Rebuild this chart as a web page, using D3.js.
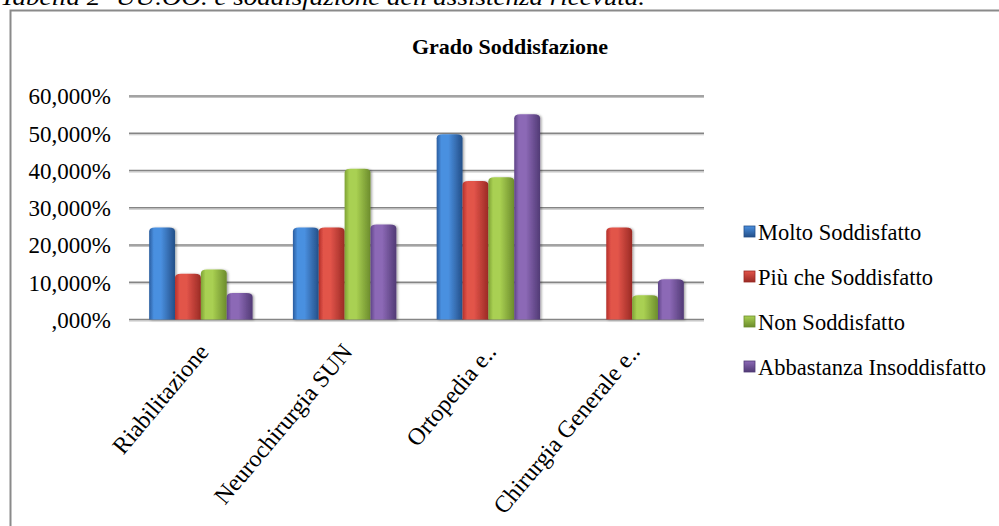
<!DOCTYPE html>
<html>
<head>
<meta charset="utf-8">
<script src="https://cdn.jsdelivr.net/npm/d3@7"></script>
<style>
  html, body { margin: 0; padding: 0; background: #fff; }
  svg { display: block; }
  text { font-family: "Liberation Serif", "Times New Roman", serif; fill: #000; }
</style>
</head>
<body>
<svg id="chart" width="999" height="526"></svg>
<script>
// Reparti (categorie sull'asse x)
const categories = ["Riabilitazione", "Neurochirurgia SUN", "Ortopedia e..", "Chirurgia Generale e.."];
// Serie del grado di soddisfazione
const series = ["Molto Soddisfatto", "Più che Soddisfatto", "Non Soddisfatto", "Abbastanza Insoddisfatto"];
// Percentuali per serie, nell'ordine delle categorie
const molto      = [24.7, 24.7, 49.7, 0];
const piuChe     = [12.3, 24.7, 37.2, 24.7];
const non        = [13.4, 40.5, 38.2, 6.5];
const abbastanza = [7.1, 25.5, 55.1, 10.8];
const seriesValues = [molto, piuChe, non, abbastanza];
// Etichette dell'asse y
const tickValues = [0, 10, 20, 30, 40, 50, 60];
const tickLabels = [",000%", "10,000%", "20,000%", "30,000%", "40,000%", "50,000%", "60,000%"];

const colors = [
  { mid: "#4a90e0", edge: "#2a5d9f", dark: "#244f88" },
  { mid: "#e2544a", edge: "#b4302a", dark: "#9a2a24" },
  { mid: "#a9d052", edge: "#7ea235", dark: "#6c8c2c" },
  { mid: "#8c69b6", edge: "#5f4488", dark: "#513a75" }
];

const svg = d3.select("#chart");
const defs = svg.append("defs");

colors.forEach((c, i) => {
  const g = defs.append("linearGradient").attr("id", "bar" + i)
    .attr("x1", "0").attr("x2", "1").attr("y1", "0").attr("y2", "0");
  g.append("stop").attr("offset", "0").attr("stop-color", c.edge);
  g.append("stop").attr("offset", "0.18").attr("stop-color", c.mid);
  g.append("stop").attr("offset", "0.45").attr("stop-color", c.mid);
  g.append("stop").attr("offset", "1").attr("stop-color", c.dark);
  const lg = defs.append("linearGradient").attr("id", "leg" + i)
    .attr("x1", "0").attr("x2", "0").attr("y1", "0").attr("y2", "1");
  lg.append("stop").attr("offset", "0").attr("stop-color", c.mid);
  lg.append("stop").attr("offset", "1").attr("stop-color", c.dark);
});

const shadow = defs.append("filter").attr("id", "shadow")
  .attr("x", "-20%").attr("y", "-10%").attr("width", "150%").attr("height", "120%");
shadow.append("feDropShadow").attr("dx", 1.5).attr("dy", 0.5)
  .attr("stdDeviation", 1.2).attr("flood-color", "#000").attr("flood-opacity", 0.35);

// Cornice esterna
svg.append("rect")
  .attr("x", 10.5).attr("y", 10.5).attr("width", 1000).attr("height", 540)
  .attr("fill", "none").attr("stroke", "#8a8a8a").attr("stroke-width", 2);

// Didascalia del documento, tagliata dal bordo superiore
svg.append("text")
  .attr("x", 0).attr("y", 5)
  .attr("font-size", 24).attr("font-style", "italic")
  .attr("textLength", 645).attr("lengthAdjust", "spacingAndGlyphs")
  .text("Tabella 2- UU.OO. e soddisfazione dell'assistenza ricevuta.");

// Titolo
svg.append("text")
  .attr("x", 510).attr("y", 54)
  .attr("text-anchor", "middle").attr("font-size", 22).attr("font-weight", "bold")
  .text("Grado Soddisfazione");

const plot = { left: 129, right: 704, top: 96, bottom: 319.5 };

const y = d3.scaleLinear().domain([0, 60]).range([plot.bottom, plot.top]);
const x0 = d3.scaleBand().domain(categories).range([plot.left, plot.right]).padding(0);
const x1 = d3.scaleBand().domain(d3.range(series.length))
  .range([0, x0.bandwidth()]).paddingInner(0).paddingOuter(0.78);

// Griglia orizzontale
const grid = svg.append("g");
tickValues.forEach(v => {
  grid.append("line")
    .attr("x1", plot.left).attr("x2", plot.right)
    .attr("y1", y(v) + 1.5).attr("y2", y(v) + 1.5)
    .attr("stroke", "#c4c4c4").attr("stroke-width", 1.2);
  grid.append("line")
    .attr("x1", plot.left).attr("x2", plot.right)
    .attr("y1", y(v)).attr("y2", y(v))
    .attr("stroke", "#858585").attr("stroke-width", 1.6);
});

// Asse y con etichette
const yAxis = d3.axisLeft(y).tickValues(tickValues)
  .tickFormat((d, i) => tickLabels[i]).tickSize(0).tickPadding(0);
const yg = svg.append("g").attr("transform", `translate(${111},0)`).call(yAxis);
yg.select(".domain").remove();
yg.selectAll("text")
  .attr("font-family", "Liberation Serif, serif").attr("font-size", 23)
  .attr("fill", "#000").attr("dy", "0.34em");

// Barre cilindriche con sommità arrotondata
function barPath(bx, by, w, h) {
  if (h <= 0) return "";
  const rx = Math.min(6, w / 2), ry = Math.min(4, h);
  return `M${bx},${by + h}V${by + ry}Q${bx},${by} ${bx + rx},${by}` +
         `H${bx + w - rx}Q${bx + w},${by} ${bx + w},${by + ry}V${by + h}Z`;
}

const groups = svg.append("g").selectAll("g")
  .data(categories).join("g")
  .attr("transform", d => `translate(${x0(d)},0)`);

groups.selectAll("path")
  .data((d, ci) => seriesValues.map((vals, si) => ({ si, v: vals[ci] })))
  .join("path")
  .attr("d", d => barPath(x1(d.si), y(d.v), x1.bandwidth(), y(0) - y(d.v)))
  .attr("fill", d => `url(#bar${d.si})`)
  .attr("filter", "url(#shadow)");

// Etichette dell'asse x, ruotate
const xAxis = d3.axisBottom(x0).tickSize(0).tickPadding(0);
const xg = svg.append("g").attr("transform", `translate(0,${plot.bottom})`).call(xAxis);
xg.select(".domain").remove();
xg.selectAll("text")
  .attr("font-family", "Liberation Serif, serif").attr("font-size", 24)
  .attr("fill", "#000")
  .attr("text-anchor", "end")
  .attr("dy", 0).attr("y", 0)
  .attr("transform", "translate(9,33) rotate(-50)");

// Legenda
const legend = svg.append("g");
const legendY = d3.scalePoint().domain(series).range([232, 367]);
series.forEach((s, i) => {
  const cy = legendY(s);
  legend.append("rect")
    .attr("x", 744).attr("y", cy - 6).attr("width", 11).attr("height", 11)
    .attr("fill", `url(#leg${i})`).attr("stroke", colors[i].dark).attr("stroke-width", 0.8);
  legend.append("text")
    .attr("x", 758).attr("y", cy).attr("dy", "0.34em")
    .attr("font-size", 22.5)
    .text(s);
});
</script>
</body>
</html>
